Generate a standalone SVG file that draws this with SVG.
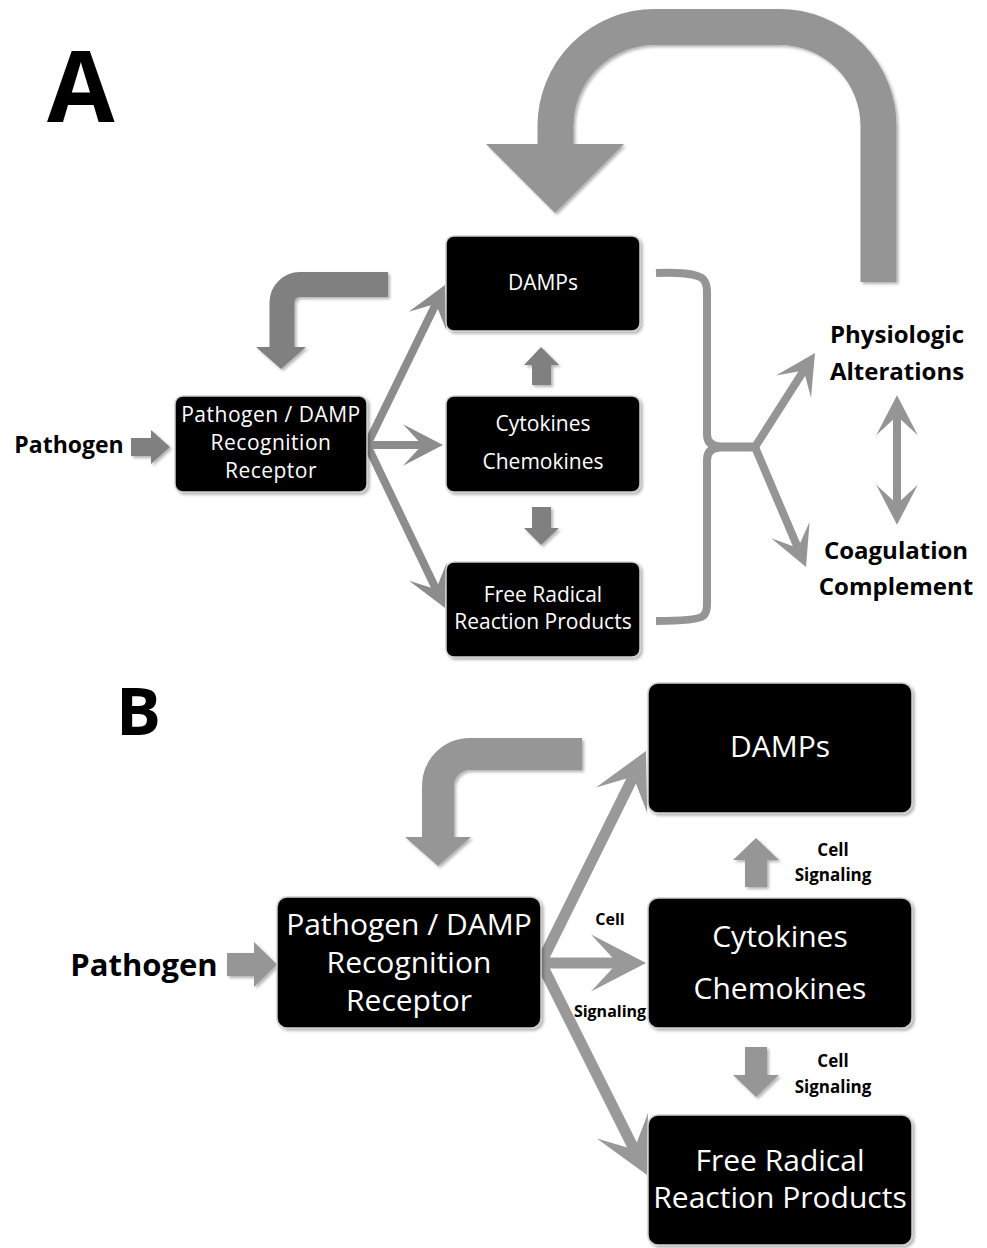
<svg xmlns="http://www.w3.org/2000/svg" width="987" height="1248" viewBox="0 0 987 1248">
<defs>
<style>
.box{fill:#000;stroke:#cfcfcf;stroke-width:1.5}
.bt{fill:#fff;font-family:"Open Sans","Liberation Sans",sans-serif;text-anchor:middle}
.lbl{fill:#000;font-family:"Open Sans","Liberation Sans",sans-serif;font-weight:bold;text-anchor:middle}
.lineA{fill:none;stroke:#8c8c8c;stroke-width:8}
.lineB{fill:none;stroke:#999;stroke-width:11}
.brk{fill:none;stroke:#959595;stroke-width:8;stroke-linejoin:round}
.blkA{fill:#808080}
.blkB{fill:#969696}
</style>
<filter id="sh" x="-20%" y="-20%" width="140%" height="140%">
<feDropShadow dx="2" dy="2" stdDeviation="1.5" flood-color="#000" flood-opacity="0.3"/>
</filter>
<marker id="ahA" viewBox="-5.5 -3 6 6" markerWidth="6" markerHeight="6" refX="-2.6" refY="0" orient="auto-start-reverse" markerUnits="strokeWidth" overflow="visible">
<path d="M0,0 L-5,-2.6 L-2.6,0 L-5,2.6 Z" fill="#8c8c8c"/>
</marker>
<marker id="ahBr" viewBox="-5.5 -3 6 6" markerWidth="6" markerHeight="6" refX="-2.6" refY="0" orient="auto-start-reverse" markerUnits="strokeWidth" overflow="visible">
<path d="M0,0 L-5,-2.6 L-2.6,0 L-5,2.6 Z" fill="#959595"/>
</marker>
<marker id="ahB" viewBox="-5.5 -3 6 6" markerWidth="6" markerHeight="6" refX="-2.6" refY="0" orient="auto-start-reverse" markerUnits="strokeWidth" overflow="visible">
<path d="M0,0 L-5,-2.6 L-2.6,0 L-5,2.6 Z" fill="#999"/>
</marker>
</defs>
<rect width="987" height="1248" fill="#fff"/>

<!-- Panel labels -->
<text x="47" y="122" font-family="Open Sans, Liberation Sans, sans-serif" font-weight="bold" font-size="98" fill="#000">A</text>
<text x="116" y="735" font-family="Open Sans, Liberation Sans, sans-serif" font-weight="bold" font-size="67" fill="#000">B</text>

<g id="connectors">
<!-- Panel A big feedback U arrow -->
<g filter="url(#sh)">
<path d="M878.5,282 V126 A99,99 0 0 0 779.5,27 H654.5 A99,99 0 0 0 555.5,126 V146" fill="none" stroke="#959595" stroke-width="36"/>
<polygon points="486,144 624,144 555,213" fill="#959595"/>
</g>
<!-- Panel A small feedback arrow -->
<g filter="url(#sh)">
<path d="M388,284.5 H300 A18,18 0 0 0 282,302.5 V348" fill="none" stroke="#808080" stroke-width="25"/>
<polygon points="256,347 306,347 281,369" class="blkA"/>
</g>
<!-- Pathogen arrow A -->
<polygon points="131,438 151,438 151,430 170,447 151,464 151,456 131,456" class="blkA" filter="url(#sh)"/>
<!-- A receptor outputs -->
<line x1="367" y1="445" x2="435.9" y2="303.7" class="lineA" marker-end="url(#ahA)"/>
<line x1="367" y1="445" x2="422.2" y2="445" class="lineA" marker-end="url(#ahA)"/>
<line x1="367" y1="445" x2="436.1" y2="589.2" class="lineA" marker-end="url(#ahA)"/>
<!-- A up / down block arrows -->
<polygon points="532,385 532,365 524,365 541,347 559,365 551,365 551,385" class="blkA" filter="url(#sh)"/>
<polygon points="532,507 532,528 524,528 541,545 559,528 551,528 551,507" class="blkA" filter="url(#sh)"/>
<!-- A bracket -->
<path d="M656,273 C680,272 698,274 703,279 Q707,283 707,292 V434 Q707,446 720,446.5 H755" class="brk"/>
<path d="M755,447.5 H720 Q707,448 707,460 V604 Q707,613 703,616 C698,620 680,621 656,621" class="brk"/>
<line x1="755" y1="447" x2="803.8" y2="370.5" class="brk" marker-end="url(#ahBr)"/>
<line x1="755" y1="447" x2="797.9" y2="547.9" class="brk" marker-end="url(#ahBr)"/>
<line x1="897" y1="416" x2="897" y2="504" class="brk" marker-start="url(#ahBr)" marker-end="url(#ahBr)"/>

<!-- Panel B feedback arrow -->
<g filter="url(#sh)">
<path d="M582,754 H470 A32,32 0 0 0 438,786 V838" fill="none" stroke="#969696" stroke-width="32"/>
<polygon points="405,837 471,837 438,866" class="blkB"/>
</g>
<!-- Pathogen arrow B -->
<polygon points="227,953 254,953 254,942 277,964.5 254,987 254,976 227,976" class="blkB" filter="url(#sh)"/>
<!-- B receptor outputs -->
<line x1="541" y1="963" x2="633.3" y2="776.6" class="lineB" marker-end="url(#ahB)"/>
<line x1="541" y1="963" x2="617.4" y2="963" class="lineB" marker-end="url(#ahB)"/>
<line x1="541" y1="963" x2="634.2" y2="1149.4" class="lineB" marker-end="url(#ahB)"/>
<!-- B up / down block arrows -->
<polygon points="745,887 745,860 733,860 756,838 779,860 767,860 767,887" class="blkB" filter="url(#sh)"/>
<polygon points="745,1047 745,1075 733,1075 756,1097 779,1075 767,1075 767,1047" class="blkB" filter="url(#sh)"/>
</g>

<!-- Panel A nodes -->
<g id="A-pathogen">
<text x="69" y="453" class="lbl" font-size="23">Pathogen</text>
</g>
<g id="A-receptor">
<rect x="175" y="396" width="192" height="96" rx="8" class="box" filter="url(#sh)"/>
<text x="271" y="422" class="bt" font-size="21" letter-spacing="0.5">Pathogen / DAMP</text>
<text x="271" y="450" class="bt" font-size="21" letter-spacing="0.5">Recognition</text>
<text x="271" y="478" class="bt" font-size="21" letter-spacing="0.5">Receptor</text>
</g>
<g id="A-damps">
<rect x="446" y="236" width="194" height="95" rx="8" class="box" filter="url(#sh)"/>
<text x="543" y="290" class="bt" font-size="21">DAMPs</text>
</g>
<g id="A-cytokines">
<rect x="446" y="396" width="194" height="96" rx="8" class="box" filter="url(#sh)"/>
<text x="543" y="431" class="bt" font-size="21">Cytokines</text>
<text x="543" y="469" class="bt" font-size="21">Chemokines</text>
</g>
<g id="A-freeradical">
<rect x="446" y="562" width="194" height="95" rx="8" class="box" filter="url(#sh)"/>
<text x="543" y="602" class="bt" font-size="21">Free Radical</text>
<text x="543" y="629" class="bt" font-size="21">Reaction Products</text>
</g>
<g id="A-physiologic">
<text x="897" y="343" class="lbl" font-size="24">Physiologic</text>
<text x="897" y="380" class="lbl" font-size="24">Alterations</text>
</g>
<g id="A-coagulation">
<text x="896" y="559" class="lbl" font-size="24">Coagulation</text>
<text x="896" y="595" class="lbl" font-size="24">Complement</text>
</g>

<!-- Panel B nodes -->
<g id="B-pathogen">
<text x="144" y="976" class="lbl" font-size="31">Pathogen</text>
</g>
<g id="B-receptor">
<rect x="277" y="897" width="264" height="131" rx="10" class="box" filter="url(#sh)"/>
<text x="409" y="935" class="bt" font-size="30">Pathogen / DAMP</text>
<text x="409" y="973" class="bt" font-size="30">Recognition</text>
<text x="409" y="1011" class="bt" font-size="30">Receptor</text>
</g>
<g id="B-damps">
<rect x="648" y="683" width="264" height="130" rx="10" class="box" filter="url(#sh)"/>
<text x="780" y="757" class="bt" font-size="30">DAMPs</text>
</g>
<g id="B-cytokines">
<rect x="648" y="898" width="264" height="130" rx="10" class="box" filter="url(#sh)"/>
<text x="780" y="947" class="bt" font-size="30">Cytokines</text>
<text x="780" y="999" class="bt" font-size="30">Chemokines</text>
</g>
<g id="B-freeradical">
<rect x="648" y="1115" width="264" height="130" rx="10" class="box" filter="url(#sh)"/>
<text x="780" y="1171" class="bt" font-size="30">Free Radical</text>
<text x="780" y="1208" class="bt" font-size="30">Reaction Products</text>
</g>
<g id="B-labels">
<text x="610" y="925" class="lbl" font-size="16">Cell</text>
<text x="610" y="1017" class="lbl" font-size="16">Signaling</text>
<text x="833" y="856" class="lbl" font-size="17">Cell</text>
<text x="833" y="881" class="lbl" font-size="17">Signaling</text>
<text x="833" y="1067" class="lbl" font-size="17">Cell</text>
<text x="833" y="1093" class="lbl" font-size="17">Signaling</text>
</g>
</svg>
